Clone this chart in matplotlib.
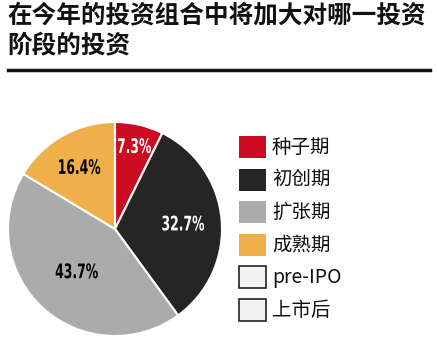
import matplotlib
matplotlib.use('Agg')
import matplotlib.pyplot as plt
from matplotlib.patches import Rectangle, PathPatch
from matplotlib.textpath import TextPath
from matplotlib.font_manager import FontProperties
from matplotlib.transforms import Affine2D
import numpy as np

plt.rcParams['font.family'] = ['Noto Sans CJK SC', 'DejaVu Sans']

# data
title_lines = ['在今年的投资组合中将加大对哪一投资', '阶段的投资']
pie_labels = ['种子期', '初创期', '扩张期', '成熟期']
pie_values = [7.3, 32.7, 43.7, 16.4]
pie_colors = ['#cc0a22', '#252525', '#ababab', '#f0b049']
pct_colors = ['white', 'white', 'black', 'black']
pct_dist = [0.80, 0.64, 0.53, 0.67]

legend_labels = ['种子期', '初创期', '扩张期', '成熟期', 'pre-IPO', '上市后']
legend_colors = ['#cc0a22', '#252525', '#ababab', '#f0b049', '#f2f2f2', '#f2f2f2']
legend_edges = ['none', 'none', 'none', 'none', '#222222', '#222222']

W, H = 437, 350
fig = plt.figure(figsize=(W / 100, H / 100), dpi=100)
fig.patch.set_facecolor('white')

# title
for k, line in enumerate(title_lines):
    fig.text(7 / W, 1 - (3 + 30 * k) / H, line, fontsize=17.7, fontweight='heavy',
             va='top', ha='left', color='#111111')
fig.add_artist(plt.Line2D([8 / W, 430 / W], [1 - 70 / H, 1 - 70 / H],
                          color='#111111', linewidth=2.5))

# pie
cx, cy, r = 115, 229, 107
ax = fig.add_axes([(cx - r) / W, (H - cy - r) / H, 2 * r / W, 2 * r / H])
wedges, _ = ax.pie(pie_values, colors=pie_colors, startangle=90, counterclock=False,
                   wedgeprops=dict(edgecolor='white', linewidth=1.5))
ax.set_aspect('auto')
ax.set_xlim(-1, 1)
ax.set_ylim(-1, 1)

# overlay in pixel coords
lax = fig.add_axes([0, 0, 1, 1], facecolor='none')
lax.set_xlim(0, W)
lax.set_ylim(H, 0)
lax.axis('off')

# condensed bold percentage labels
fp = FontProperties(family='DejaVu Sans', weight='bold')
for w, v, c, d in zip(wedges, pie_values, pct_colors, pct_dist):
    ang = np.deg2rad((w.theta1 + w.theta2) / 2)
    px = cx + d * r * np.cos(ang)
    py = cy - d * r * np.sin(ang)
    tp = TextPath((0, 0), f'{v}%', size=20, prop=fp)
    bb = tp.get_extents()
    sx, sy = 0.62, 1.0
    tr = (Affine2D().translate(-(bb.x0 + bb.x1) / 2, -(bb.y0 + bb.y1) / 2)
          .scale(sx, -sy).translate(px, py))
    lax.add_patch(PathPatch(tr.transform_path(tp), facecolor=c, edgecolor='none'))

# legend
y0, dy = 147, 32.6
for i, (lab, col, ec) in enumerate(zip(legend_labels, legend_colors, legend_edges)):
    y = y0 + i * dy
    lax.add_patch(Rectangle((239, y - 11), 27, 22, facecolor=col, edgecolor=ec, linewidth=1.2))
    lax.text(272, y, lab, fontsize=14, va='center', ha='left', color='#111111')

fig.savefig('out.png', dpi=100)
